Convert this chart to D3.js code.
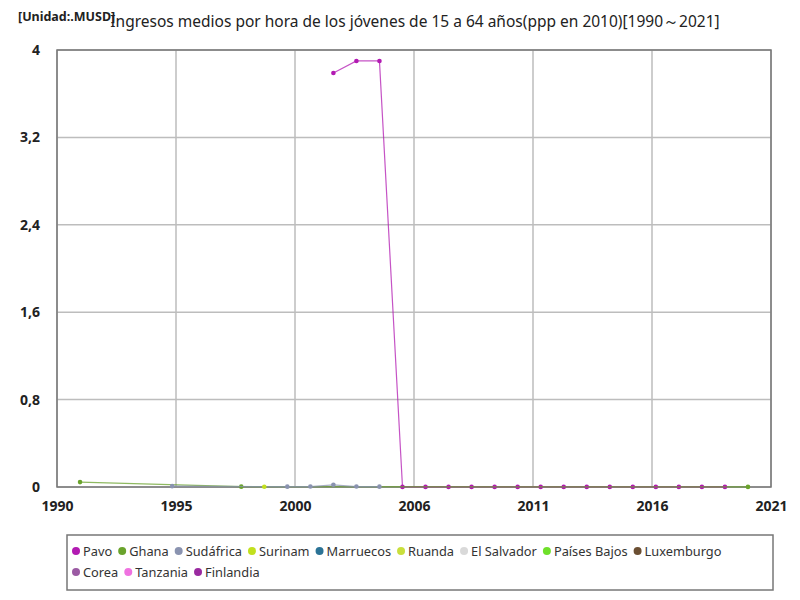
<!DOCTYPE html>
<html>
<head>
<meta charset="utf-8">
<script src="https://cdn.jsdelivr.net/npm/d3@7"></script>
<style>
  body { margin: 0; background: #fff; font-family: "Noto Sans", "DejaVu Sans", sans-serif; }
</style>
</head>
<body>
<div id="chart"></div>
<script>
// series names and colours, in legend order
const seriesNames = ["Pavo", "Ghana", "Sudáfrica", "Surinam", "Marruecos", "Ruanda",
  "El Salvador", "Países Bajos", "Luxemburgo", "Corea", "Tanzania", "Finlandia"];
const seriesColors = ["#b21ab2", "#6aa32c", "#8a93b0", "#c2e01e", "#2b7396", "#c9df3c",
  "#d9d9d9", "#6fe02a", "#6b4f33", "#9b5aa3", "#ef72e0", "#9a2aa0"];

// values, one [year, value] list per series
const pavo = [[2002, 3.79], [2003, 3.90], [2004, 3.90], [2005, 0.001], [2006, 0.001],
  [2007, 0.001], [2008, 0.001], [2009, 0.001], [2010, 0.001], [2011, 0.001], [2012, 0.001],
  [2013, 0.001], [2014, 0.001], [2015, 0.001], [2016, 0.001], [2017, 0.001], [2018, 0.001], [2019, 0.001]];
const ghana = [[1991, 0.045], [1998, 0.003], [2020, 0.001]];
const sudafrica = [[1995, 0.008], [2000, 0.003], [2001, 0.004], [2002, 0.02], [2003, 0.004], [2004, 0.003]];
const surinam = [[1999, 0.002]];
const marruecos = [];
const ruanda = [];
const elSalvador = [];
const paisesBajos = [];
const luxemburgo = [];
const corea = [];
const tanzania = [];
const finlandia = [];

const allSeries = [pavo, ghana, sudafrica, surinam, marruecos, ruanda,
  elSalvador, paisesBajos, luxemburgo, corea, tanzania, finlandia];

const yTicks = [0, 0.8, 1.6, 2.4, 3.2, 4];
const xStart = 1990, xEnd = 2021;

const W = 800, H = 600;
const plotLeft = 57, plotRight = 771, plotTop = 50, plotBottom = 487;

var svg = d3.select("#chart").append("svg")
  .attr("width", W)
  .attr("height", H);

var x = d3.scaleLinear().domain([xStart, xEnd]).range([plotLeft, plotRight]);
var y = d3.scaleLinear().domain([0, 4]).range([plotBottom, plotTop]);

// x ticks are spread evenly over the range, labels rounded to years
var xTicks = d3.range(7).map(i => xStart + i * (xEnd - xStart) / 6);

// grid
svg.append("g")
  .selectAll("line")
  .data(xTicks)
  .enter().append("line")
  .attr("x1", d => x(d)).attr("x2", d => x(d))
  .attr("y1", plotTop).attr("y2", plotBottom)
  .attr("stroke", "#bdbdbd").attr("stroke-width", 1.5);

svg.append("g")
  .selectAll("line")
  .data(yTicks)
  .enter().append("line")
  .attr("x1", plotLeft).attr("x2", plotRight)
  .attr("y1", d => y(d)).attr("y2", d => y(d))
  .attr("stroke", "#bdbdbd").attr("stroke-width", 1.5);

// frame
svg.append("rect")
  .attr("x", plotLeft).attr("y", plotTop)
  .attr("width", plotRight - plotLeft).attr("height", plotBottom - plotTop)
  .attr("fill", "none").attr("stroke", "#777").attr("stroke-width", 1.5);

// axes
var xAxis = svg.append("g")
  .attr("transform", "translate(0," + plotBottom + ")")
  .call(d3.axisBottom(x).tickValues(xTicks).tickFormat(d => Math.round(d)).tickSize(0).tickPadding(14));
xAxis.select(".domain").remove();
xAxis.selectAll("text")
  .attr("font-size", 14).attr("font-weight", "bold").attr("fill", "#222")
  .attr("font-family", "'Noto Sans', sans-serif");

var yAxis = svg.append("g")
  .attr("transform", "translate(" + plotLeft + ",0)")
  .call(d3.axisLeft(y).tickValues(yTicks).tickFormat(d => String(d).replace(".", ",")).tickSize(0).tickPadding(17));
yAxis.select(".domain").remove();
yAxis.selectAll("text")
  .attr("font-size", 14).attr("font-weight", "bold").attr("fill", "#222")
  .attr("font-family", "'Noto Sans', sans-serif");

// lines and points
var line = d3.line().x(d => x(d[0])).y(d => y(d[1]));

allSeries.forEach(function(data, i) {
  if (data.length === 0) return;
  svg.append("path")
    .datum(data)
    .attr("d", line)
    .attr("fill", "none")
    .attr("stroke", seriesColors[i])
    .attr("stroke-opacity", 0.75)
    .attr("stroke-width", 1.2);
  svg.append("g")
    .selectAll("circle")
    .data(data)
    .enter().append("circle")
    .attr("cx", d => x(d[0]))
    .attr("cy", d => y(d[1]))
    .attr("r", 2.3)
    .attr("fill", seriesColors[i]);
});

// title
svg.append("text")
  .attr("x", 415).attr("y", 27)
  .attr("text-anchor", "middle")
  .attr("font-size", 15.5).attr("fill", "#222")
  .text("Ingresos medios por hora de los jóvenes de 15 a 64 años(ppp en 2010)[1990～2021]");

svg.append("text")
  .attr("x", 18).attr("y", 21)
  .attr("font-size", 12.5).attr("font-weight", "bold").attr("fill", "#222")
  .text("[Unidad:.MUSD]");

// legend
var legX = 67, legY = 535, legW = 706, legH = 55;
svg.append("rect")
  .attr("x", legX).attr("y", legY)
  .attr("width", legW).attr("height", legH)
  .attr("fill", "#fff").attr("stroke", "#777").attr("stroke-width", 1.5);

var lx = legX + 9, ly = legY + 16;
seriesNames.forEach(function(name, i) {
  var g = svg.append("g");
  g.append("circle").attr("cx", lx).attr("cy", ly).attr("r", 4).attr("fill", seriesColors[i]);
  var t = g.append("text")
    .attr("x", lx + 7).attr("y", ly + 4.5)
    .attr("font-size", 12.8).attr("fill", "#333")
    .text(name);
  var w = t.node().getComputedTextLength();
  lx = lx + 7 + w + 10;
  // wrap after Luxemburgo as in the reference
  if (name === "Luxemburgo") { lx = legX + 9; ly += 21; }
});
</script>
</body>
</html>
